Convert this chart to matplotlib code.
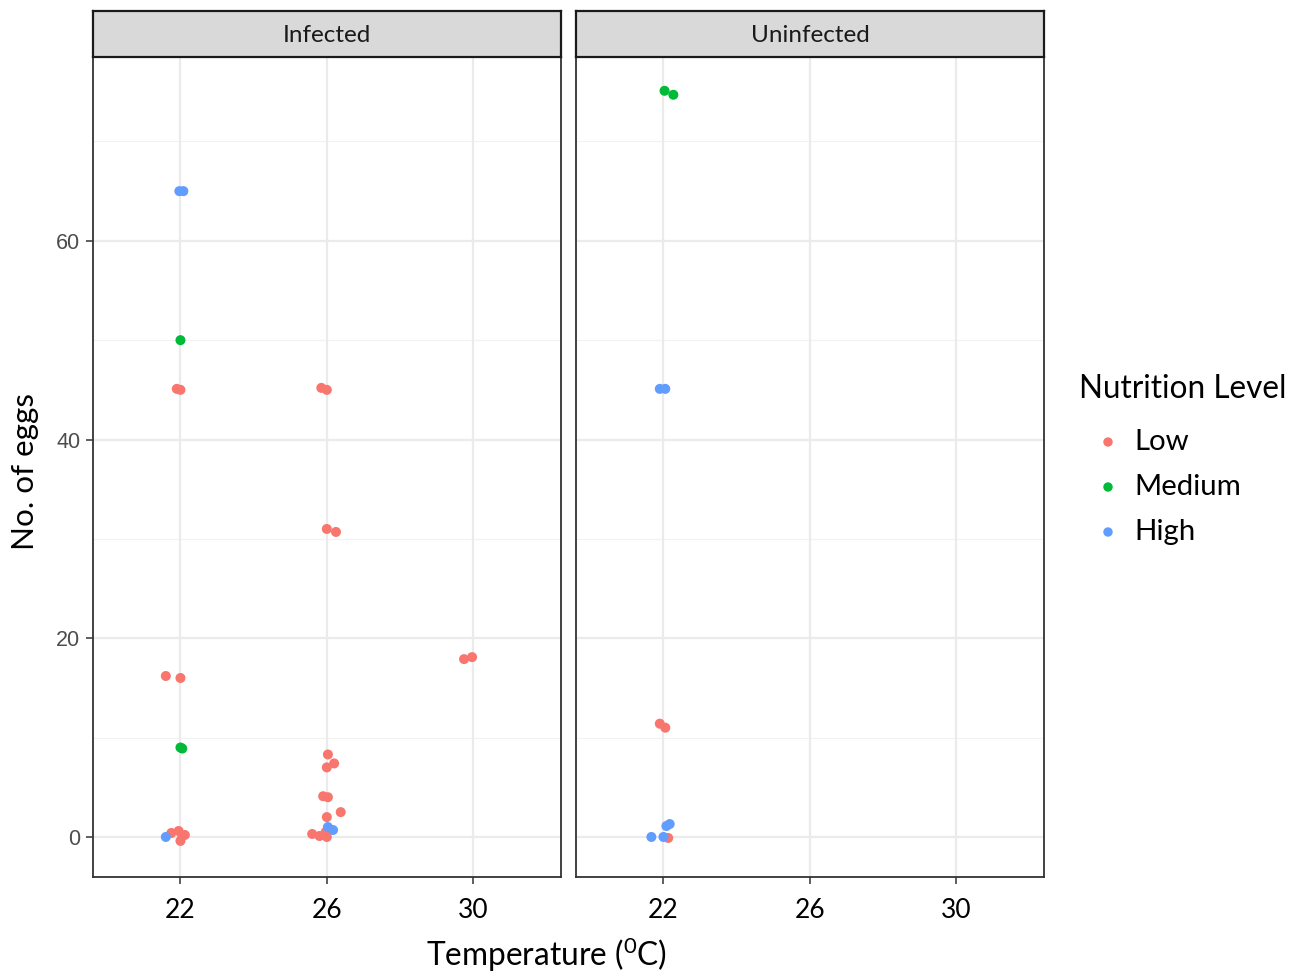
import numpy as np
import matplotlib.pyplot as plt

plt.rcParams['mathtext.fontset'] = 'custom'
plt.rcParams['mathtext.rm'] = 'Lato'

# data: (temperature, eggs)
inf_low_t = [21.9, 22.0, 21.6, 22.0, 21.75, 21.95, 22.12, 22.0, 22.05,
             25.85, 26.0, 26.0, 26.25, 26.03, 26.2, 26.0, 25.9, 26.03, 26.38, 26.0,
             25.6, 25.8, 26.0, 25.97, 29.75, 29.97]
inf_low_y = [45.1, 45.0, 16.2, 16.0, 0.4, 0.6, 0.2, -0.4, 0.1,
             45.2, 45.0, 31.0, 30.7, 8.3, 7.4, 7.0, 4.1, 4.0, 2.5, 2.0,
             0.3, 0.1, 0.0, 0.5, 17.9, 18.1]
inf_med_t = [22.0, 22.0, 22.05]
inf_med_y = [50.0, 9.0, 8.9]
inf_high_t = [21.97, 22.08, 21.6, 26.03, 26.17]
inf_high_y = [65.0, 65.0, 0.0, 1.0, 0.7]

uninf_low_t = [21.9, 22.05, 22.13]
uninf_low_y = [11.4, 11.0, -0.1]
uninf_med_t = [22.03, 22.27]
uninf_med_y = [75.1, 74.7]
uninf_high_t = [21.9, 22.05, 22.08, 22.17, 21.67, 22.0]
uninf_high_y = [45.1, 45.1, 1.1, 1.3, 0.0, 0.0]

levels = ['Low', 'Medium', 'High']
colors = ['#F8766D', '#00BA38', '#619CFF']
panels = ['Infected', 'Uninfected']
x_ticks = [22, 26, 30]
y_ticks = [0, 20, 40, 60]

W, H = 1298, 973
fig = plt.figure(figsize=(W / 100, H / 100), dpi=100)

def px_axes(x0, y0, x1, y1):
    return fig.add_axes([x0 / W, 1 - y1 / H, (x1 - x0) / W, (y1 - y0) / H])

data = [
    [(inf_low_t, inf_low_y), (inf_med_t, inf_med_y), (inf_high_t, inf_high_y)],
    [(uninf_low_t, uninf_low_y), (uninf_med_t, uninf_med_y), (uninf_high_t, uninf_high_y)],
]
lefts = [93, 576]
for i, name in enumerate(panels):
    ax = px_axes(lefts[i], 57, lefts[i] + 468, 877)
    ax.set_xlim(19.61, 32.4)
    ax.set_ylim(-4.03, 78.5)
    for y in [10, 30, 50, 70]:
        ax.axhline(y, color='#F2F2F2', lw=0.8, zorder=0)
    for y in y_ticks:
        ax.axhline(y, color='#EBEBEB', lw=1.6, zorder=0)
    for x in x_ticks:
        ax.axvline(x, color='#EBEBEB', lw=1.6, zorder=0)
    for j, (t, e) in enumerate(data[i]):
        ax.scatter(t, e, s=52, color=colors[j], edgecolors='none', zorder=3)
    for sp in ax.spines.values():
        sp.set_color('#333333')
        sp.set_linewidth(1.3)
    ax.set_xticks(x_ticks)
    ax.set_xticklabels([str(x) for x in x_ticks], fontfamily='Lato', fontsize=19, color='black')
    ax.tick_params(axis='x', length=5, width=1.1, color='#333333', pad=10)
    if i == 0:
        ax.set_yticks(y_ticks)
        ax.set_yticklabels([str(y) for y in y_ticks], fontfamily='Liberation Sans', fontsize=15.5, color='#4D4D4D')
        ax.tick_params(axis='y', length=5, width=1.1, color='#333333', pad=4)
    else:
        ax.set_yticks([])
    # strip
    sx = px_axes(lefts[i], 11, lefts[i] + 468, 57)
    sx.set_facecolor('#D9D9D9')
    sx.set_xticks([])
    sx.set_yticks([])
    for sp in sx.spines.values():
        sp.set_color('#1A1A1A')
        sp.set_linewidth(1.6)
    sx.text(0.5, 0.47, name, ha='center', va='center', fontfamily='Lato', fontsize=17.5, color='#1A1A1A',
            transform=sx.transAxes)

fig.text(546 / W, 1 - 955 / H, 'Temperature ($\\mathrm{^{0}}$C)', ha='center', va='center',
         fontfamily='Lato', fontsize=22.8)
fig.text(25 / W, 1 - 471 / H, 'No. of eggs', ha='center', va='center', rotation=90, fontfamily='Lato', fontsize=22.6)

# legend drawn by hand
lg = px_axes(1060, 360, 1298, 560)
lg.set_xlim(1060, 1298)
lg.set_ylim(560, 360)
lg.axis('off')
lg.text(1079, 389, 'Nutrition Level', ha='left', va='center', fontfamily='Lato', fontsize=22.7)
for j, lev in enumerate(levels):
    yy = 442 + 45 * j
    lg.scatter([1108], [yy], s=46, color=colors[j], edgecolors='none')
    lg.text(1134, yy, lev, ha='left', va='center', fontfamily='Lato', fontsize=21.2)

fig.savefig('out.png', dpi=100)
